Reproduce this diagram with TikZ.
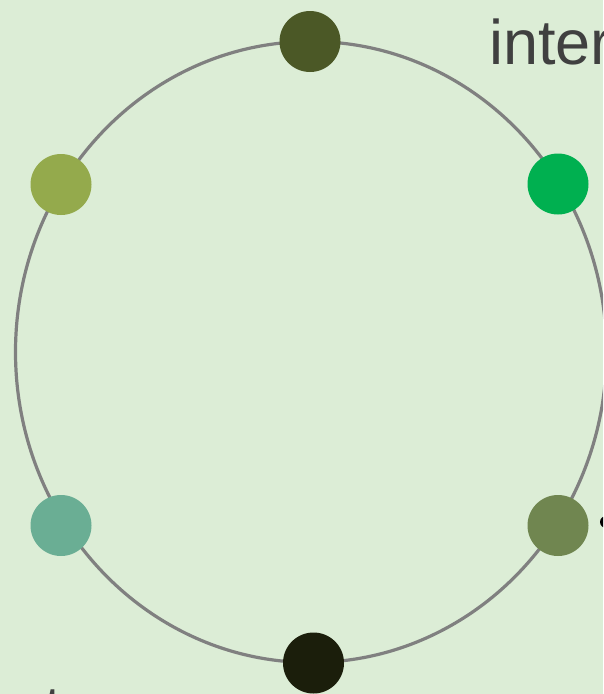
\documentclass[tikz,border=0pt]{standalone}
\usepackage{fontspec}
\setmainfont{Liberation Sans}
\definecolor{bg}{RGB}{220,237,214}
\definecolor{ringc}{RGB}{128,128,128}
\definecolor{txtc}{RGB}{64,64,64}
\definecolor{dA}{RGB}{75,88,38}
\definecolor{dB}{RGB}{0,176,80}
\definecolor{dC}{RGB}{112,134,80}
\definecolor{dD}{RGB}{27,30,11}
\definecolor{dE}{RGB}{106,174,148}
\definecolor{dF}{RGB}{148,170,76}
\begin{document}
\begin{tikzpicture}[x=1pt,y=-1pt,
  dot/.style={circle,inner sep=0pt,minimum size=61pt,draw=none},
  lbl/.style={anchor=base west,inner sep=0pt,text=txtc,font=\fontsize{63}{75}\selectfont}]
\useasboundingbox (0,0) rectangle (603,694);
\clip (0,0) rectangle (603,694);
\fill[bg] (0,0) rectangle (603,694);
\draw[ringc,line width=3.2pt] (311,352) ellipse [x radius=295.5pt, y radius=310.5pt];
\node[dot,fill=dA] (n1) at (310,41.5) {};
\node[dot,fill=dB] (n2) at (558,184) {};
\node[dot,fill=dC] (n3) at (558,525.5) {};
\node[dot,fill=dD] (n4) at (313.5,663) {};
\node[dot,fill=dE] (n5) at (61,525.5) {};
\node[dot,fill=dF] (n6) at (61,184.5) {};
\node[lbl] (t1) at (489,64) {inter};
\node[circle,fill=black,inner sep=0pt,minimum size=12pt] (b3) at (606,522) {};
\node[lbl] (t5) at (44,730) {t};
\end{tikzpicture}
\end{document}
